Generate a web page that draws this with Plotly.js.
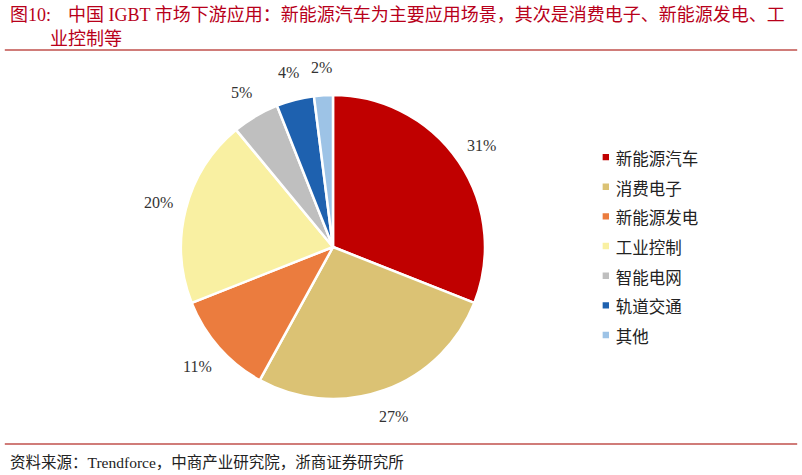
<!DOCTYPE html>
<html><head><meta charset="utf-8">
<script src="https://cdn.plot.ly/plotly-3.0.1.min.js"></script>
<style>body{margin:0;padding:0;background:#fff}#chart{width:802px;height:475px}</style>
</head><body><div id="chart"></div>
<script>
const categories = ["新能源汽车","消费电子","新能源发电","工业控制","智能电网","轨道交通","其他"];
const shares = [31, 27, 11, 20, 5, 4, 2];
const colors = ["#C00000","#DBC274","#EB7C3E","#F9F0A2","#BFBFBF","#1E61AF","#9DC3E6"];

const W = 802, H = 475;
const serif = "Liberation Serif, Noto Sans CJK SC, serif";
const dom = {x: [0.2257, 0.6047], y: [0.16, 0.80]};

const data = [{
  type: "pie",
  labels: categories.map(c => '<span style="font-size:16.5px">' + c + '</span>'),
  values: shares,
  sort: false,
  direction: "clockwise",
  rotation: 0,
  marker: {colors: colors, line: {color: "#ffffff", width: 2.5}},
  textinfo: "none",
  hoverinfo: "label+value",
  domain: dom
}];

// percentage labels placed outside each slice, at the slice's mid angle
const total = shares.reduce((a, b) => a + b, 0);
const cx = (dom.x[0] + dom.x[1]) / 2 * W;
const cy = (1 - (dom.y[0] + dom.y[1]) / 2) * H;
const rLab = 180;
let cum = 0;
const labelAnns = shares.map(v => {
  const mid = (cum + v / 2) / total * 2 * Math.PI;
  cum += v;
  const px = cx + rLab * Math.sin(mid);
  const py = cy - rLab * Math.cos(mid);
  return {xref: "paper", yref: "paper", x: px / W, y: 1 - py / H, xanchor: "center", yanchor: "middle",
          showarrow: false, text: v + "%", font: {family: serif, size: 16, color: "#333333"}};
});

const titleFont = {family: serif, size: 18, color: "#B8001A"};
const layout = {
  width: W, height: H,
  margin: {l: 0, r: 0, t: 0, b: 0},
  paper_bgcolor: "#ffffff",
  showlegend: true,
  legend: {x: 0.718, y: 0.711, xanchor: "left", yanchor: "top",
           font: {family: serif, size: 20.5, color: "#222222"}, itemwidth: 30},
  shapes: [
    {type: "line", xref: "paper", yref: "paper", x0: 0.006, x1: 0.994, y0: 1 - 50/H, y1: 1 - 50/H,
     line: {color: "#C0504D", width: 1.5}},
    {type: "line", xref: "paper", yref: "paper", x0: 0.006, x1: 0.994, y0: 1 - 444/H, y1: 1 - 444/H,
     line: {color: "#C0504D", width: 1.5}}
  ],
  annotations: labelAnns.concat([
    {xref: "paper", yref: "paper", x: 8/W, y: 1 - 15/H, xanchor: "left", yanchor: "middle", showarrow: false,
     text: "图10:", font: titleFont},
    {xref: "paper", yref: "paper", x: 66/W, y: 1 - 15/H, xanchor: "left", yanchor: "middle", showarrow: false,
     text: "中国 IGBT 市场下游应用：新能源汽车为主要应用场景，其次是消费电子、新能源发电、工",
     font: titleFont},
    {xref: "paper", yref: "paper", x: 48/W, y: 1 - 39/H, xanchor: "left", yanchor: "middle", showarrow: false,
     text: "业控制等", font: titleFont},
    {xref: "paper", yref: "paper", x: 8/W, y: 1 - 462/H, xanchor: "left", yanchor: "middle", showarrow: false,
     text: "资料来源：Trendforce，中商产业研究院，浙商证券研究所", font: {family: serif, size: 15.5, color: "#222222"}}
  ])
};
Plotly.newPlot("chart", data, layout, {displayModeBar: false, staticPlot: true}).then(gd => {
  // smaller legend squares, closer to their text, as in the reference
  gd.querySelectorAll(".legendpoints path").forEach(p => {
    p.setAttribute("transform", "translate(30,0) scale(0.67)");
  });
});
</script></body></html>
